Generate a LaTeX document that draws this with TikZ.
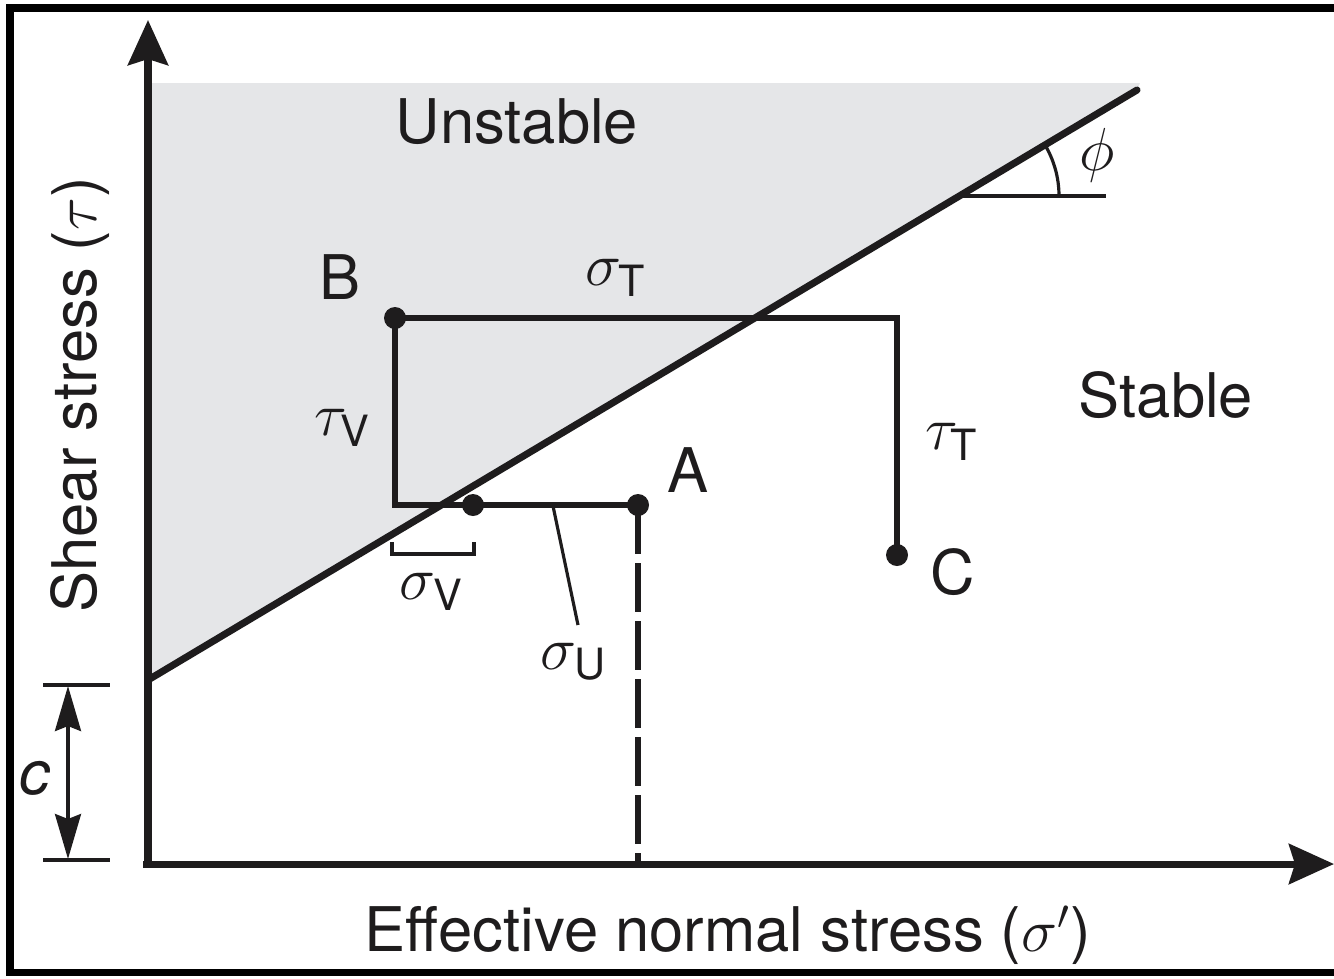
\documentclass[tikz,border=0pt]{standalone}
\usepackage{amsmath}
\usepackage{fontspec}
\setmainfont{TeX Gyre Heros}
\usepackage{xcolor}
\usetikzlibrary{arrows.meta,positioning,calc}
\definecolor{mcGray}{HTML}{E5E6E8}
\definecolor{mcInk}{HTML}{1E1C1D}

\begin{document}
\begin{tikzpicture}[
  x=0.01cm, y=-0.01cm,
  >=Stealth,
  font=\fontsize{17.5}{21}\selectfont,
  axis/.style={-{Stealth[length=4.5mm,width=4mm,inset=0.6mm]}, line width=2pt, draw=mcInk},
  envelope/.style={line width=2pt, draw=mcInk, line cap=round},
  pathline/.style={line width=1.5pt, draw=mcInk},
  thin/.style={line width=0.9pt, draw=mcInk},
  dot/.style={circle, fill=mcInk, inner sep=0pt, minimum size=0.22cm},
  lbl/.style={inner sep=0pt, text=mcInk}
]
  \useasboundingbox (0,0) rectangle (1334,978);
  % frame
  \draw[line width=2pt, draw=black] (1345,8) -- (10,8) -- (10,972) -- (1345,972);
  % unstable region
  \fill[mcGray] (150,83) -- (1140,83) -- (1137,90) -- (148,680) -- cycle;
  % axes
  \coordinate (O) at (148,864);
  \draw[axis] (148,866) -- (148,20);
  \draw[axis] (143,864) -- (1334,864);
  % failure envelope
  \coordinate (e0) at (148,680);
  \coordinate (e1) at (1137,90);
  \draw[envelope] (e0) -- (e1);
  \coordinate (phi0) at (959,196);
  \draw[thin] (phi0) -- (1106,196);
  \draw[thin] (1059,196) arc[start angle=0, end angle=-30.8, radius=100];
  % stress points
  \node[dot] (B) at (395,318) {};
  \node[dot] (A) at (638,505) {};
  \node[dot] (C) at (897,555) {};
  \node[dot] (V) at (473,505) {};
  \coordinate (BR) at (897,318);
  \coordinate (BL) at (395,505);
  \draw[pathline] (B.center) -- (BR) -- (C.center);
  \draw[pathline] (B.center) -- (BL) -- (A.center);
  \draw[line width=1.9pt, draw=mcInk, dash pattern=on 0.49cm off 0.09cm] (A.center) -- (A |- O);
  % sigma_V bracket
  \draw[thin, line width=1.1pt] (392,542) -- (392,554) -- (474,554) -- (474,542);
  % sigma_U leader
  \coordinate (uL) at (553,506);
  \coordinate (uT) at (578,625);
  \draw[thin] (uL) -- (uT);
  % cohesion
  \draw[thin] (43,685) -- (110,685);
  \draw[thin] (43,860) -- (110,860);
  \draw[thin, {Stealth[length=4.5mm,width=2.6mm,inset=0.5mm]}-{Stealth[length=4.5mm,width=2.6mm,inset=0.5mm]}] (68,686) -- (68,859);
  % labels
  \node[lbl] (unst) at (517,122) {Unstable};
  \node[lbl] (stab) at (1166,395) {Stable};
  \node[lbl] (phiL) at (1097,155) {$\phi$};
  \node[lbl] (Blbl) at (340,277) {B};
  \node[lbl] (Albl) at (688,470) {A};
  \node[lbl] (Clbl) at (953,572) {C};
  \node[lbl] (sT) at (616,278) {$\sigma_{\text{T}}$};
  \node[lbl] (tV) at (343,428) {$\tau_{\text{V}}$};
  \node[lbl] (tT) at (952,442) {$\tau_{\text{T}}$};
  \node[lbl] (sV) at (432,592) {$\sigma_{\text{V}}$};
  \node[lbl] (sU) at (574,662) {$\sigma_{\text{U}}$};
  \node[lbl] (cL) at (35,778) {\itshape c};
  \node[lbl, rotate=90] (yL) at (80,395) {Shear stress ($\tau$)};
  \node[lbl] (xL) at (728,935) {Effective normal stress ($\sigma'$)};
\end{tikzpicture}
\end{document}
